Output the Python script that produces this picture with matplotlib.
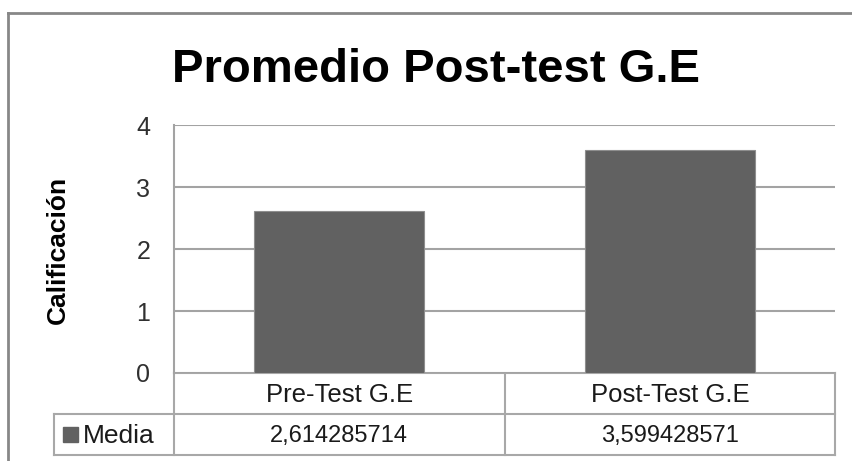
import matplotlib
matplotlib.use("Agg")
import matplotlib.pyplot as plt
from matplotlib.patches import Rectangle
from matplotlib.lines import Line2D

categories = ["Pre-Test G.E", "Post-Test G.E"]
values = [2.614285714, 3.599428571]
series_name = "Media"
title = "Promedio Post-test G.E"
ylabel = "Calificación"
yticks = [0, 1, 2, 3, 4]

W, H = 853, 461
plt.rcParams['font.family'] = ['Liberation Sans', 'DejaVu Sans']
fig = plt.figure(figsize=(W / 100, H / 100), dpi=100)

# overlay axes in pixel coordinates for the frame/table
ov = fig.add_axes([0, 0, 1, 1])
ov.set_xlim(0, W)
ov.set_ylim(H, 0)
ov.axis('off')

L, R, T, B = 174, 835, 125.5, 373
ax = fig.add_axes([L / W, 1 - B / H, (R - L) / W, (B - T) / H])
bar_color = '#616161'
grid_color = '#a3a3a3'
x = list(range(len(categories)))
ax.bar(x, values, width=0.514, color=bar_color, edgecolor='#8e8e8e', linewidth=0.8, zorder=3)
ax.set_xlim(-0.5, len(categories) - 0.5)
ax.set_ylim(0, 4)
ax.set_yticks(yticks)
ax.set_yticklabels([str(t) for t in yticks], fontsize=18, color='#303030')
ax.tick_params(axis='y', length=0, pad=17)
ax.set_xticks([])
ax.yaxis.grid(True, color=grid_color, linewidth=1.5, zorder=0)
ax.set_axisbelow(True)
for s in ['top', 'right', 'bottom']:
    ax.spines[s].set_visible(False)
ax.spines['left'].set_color(grid_color)
ax.spines['left'].set_linewidth(1.5)

# title and y label
ov.text(436, 70, title, ha='center', va='center', fontsize=34, fontweight='bold', color='#000000')
ov.text(58, 250, ylabel, ha='center', va='center', rotation=90, fontsize=19, fontweight='bold', color='#000000')

# outer frame
ov.add_line(Line2D([8, 8], [13, H], color='#878787', linewidth=2))
ov.add_line(Line2D([8, W], [13, 13], color='#878787', linewidth=2))

# data table
tcol = '#a8a8a8'
r0, r1, r2 = 373, 414, 455
cl, cm, cr = 174, 504.7, 835
kl = 54
lw = 1.5
for yy, x0 in [(r0, cl), (r1, kl), (r2, kl)]:
    ov.add_line(Line2D([x0, cr], [yy, yy], color=tcol, linewidth=lw))
ov.add_line(Line2D([kl, kl], [r1, r2], color=tcol, linewidth=lw))
for xx in [cl, cm, cr]:
    ov.add_line(Line2D([xx, xx], [r0, r2], color=tcol, linewidth=lw))

centers = [(cl + cm) / 2, (cm + cr) / 2]
for cx, cat, v in zip(centers, categories, values):
    ov.text(cx, (r0 + r1) / 2 + 1, cat, ha='center', va='center', fontsize=18.5, color='#1a1a1a')
    ov.text(cx, (r1 + r2) / 2 + 1, f"{v:.9f}".replace('.', ','), ha='center', va='center', fontsize=17, color='#1a1a1a')
ov.add_patch(Rectangle((63, 427), 15, 15, color=bar_color))
ov.text(83, (r1 + r2) / 2 + 1, series_name, ha='left', va='center', fontsize=19, color='#1a1a1a')

fig.savefig("out.png", dpi=100)
